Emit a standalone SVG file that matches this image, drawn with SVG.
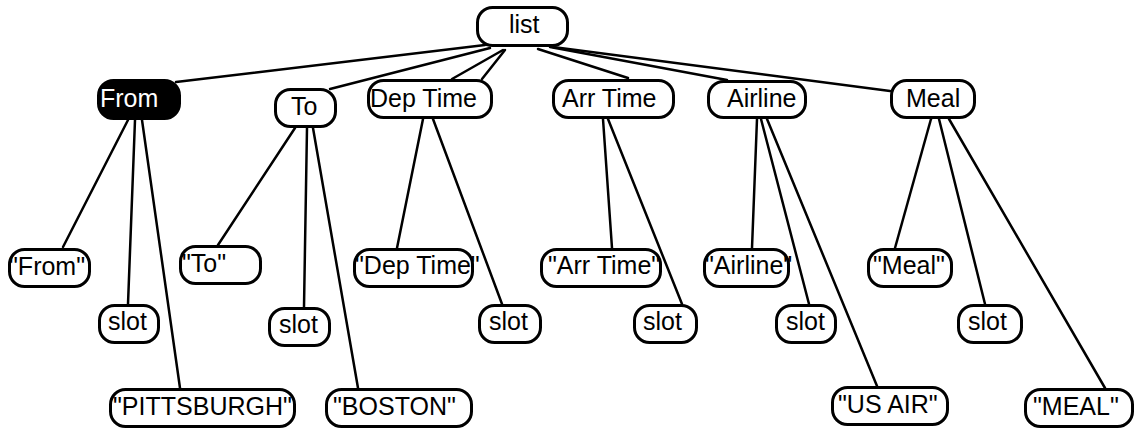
<svg xmlns="http://www.w3.org/2000/svg" width="1135" height="432" viewBox="0 0 1135 432">
<style>
.n rect{fill:#fff;stroke:#000;stroke-width:3}
.n text{font-family:"Liberation Sans",Arial,sans-serif;font-size:25px;fill:#000}
#n-from rect{fill:#000}
#n-from text{fill:#fff}
.c line{stroke:#000;stroke-width:2.5;stroke-linecap:round}
</style>
<rect width="1135" height="432" fill="#fff"/>
<g class="c" id="connectors">
<line x1="485" y1="45" x2="176" y2="82"/>
<line x1="490" y1="48" x2="330" y2="89"/>
<line x1="503" y1="50" x2="452" y2="79"/>
<line x1="505" y1="50" x2="482" y2="79"/>
<line x1="538" y1="49" x2="628" y2="78"/>
<line x1="550" y1="47" x2="727" y2="80"/>
<line x1="553" y1="47" x2="890" y2="91"/>
<line x1="128" y1="120" x2="63" y2="247"/>
<line x1="135" y1="120" x2="128" y2="304"/>
<line x1="142" y1="120" x2="180" y2="388"/>
<line x1="295" y1="128" x2="218" y2="245"/>
<line x1="307" y1="128" x2="304" y2="307"/>
<line x1="313" y1="128" x2="358" y2="388"/>
<line x1="423" y1="119" x2="397" y2="248"/>
<line x1="433" y1="119" x2="502" y2="304"/>
<line x1="603" y1="119" x2="612" y2="248"/>
<line x1="608" y1="119" x2="682" y2="304"/>
<line x1="757" y1="119" x2="752" y2="248"/>
<line x1="761" y1="119" x2="809" y2="304"/>
<line x1="767" y1="119" x2="877" y2="386"/>
<line x1="931" y1="119" x2="895" y2="248"/>
<line x1="939" y1="119" x2="985" y2="304"/>
<line x1="949" y1="119" x2="1105" y2="388"/>
</g>
<g class="n" id="n-list"><rect x="477.5" y="7.5" width="90" height="38" rx="15"/><text x="509" y="33">list</text></g>
<g class="n" id="n-from"><rect x="98.5" y="80.5" width="81" height="38" rx="15"/><text x="100" y="107">From</text></g>
<g class="n" id="n-to"><rect x="275.5" y="89.5" width="60" height="37" rx="15"/><text x="291" y="115">To</text></g>
<g class="n" id="n-deptime"><rect x="368.5" y="80.5" width="123" height="37" rx="15"/><text x="370" y="107">Dep Time</text></g>
<g class="n" id="n-arrtime"><rect x="553.5" y="80.5" width="120" height="37" rx="15"/><text x="562" y="107">Arr Time</text></g>
<g class="n" id="n-airline"><rect x="708.5" y="81.5" width="97" height="36" rx="15"/><text x="727" y="107">Airline</text></g>
<g class="n" id="n-meal"><rect x="891.5" y="80.5" width="83" height="37" rx="15"/><text x="906" y="107">Meal</text></g>
<g class="n" id="n-from-str"><rect x="9.5" y="249.5" width="80" height="37" rx="15"/><text x="9" y="275">"From"</text></g>
<g class="n" id="n-from-slot"><rect x="99.5" y="305.5" width="59" height="37" rx="15"/><text x="108" y="330">slot</text></g>
<g class="n" id="n-pittsburgh"><rect x="110.5" y="389.5" width="184" height="37" rx="15"/><text x="113" y="415">"PITTSBURGH"</text></g>
<g class="n" id="n-to-str"><rect x="180.5" y="246.5" width="80" height="37" rx="15"/><text x="182" y="272">"To"</text></g>
<g class="n" id="n-to-slot"><rect x="269.5" y="308.5" width="60" height="37" rx="15"/><text x="279" y="333">slot</text></g>
<g class="n" id="n-boston"><rect x="326.5" y="389.5" width="145" height="37" rx="15"/><text x="333" y="415">"BOSTON"</text></g>
<g class="n" id="n-dep-str"><rect x="354.5" y="249.5" width="118" height="37" rx="15"/><text x="355" y="274">"Dep Time"</text></g>
<g class="n" id="n-dep-slot"><rect x="479.5" y="305.5" width="61" height="37" rx="15"/><text x="489" y="330">slot</text></g>
<g class="n" id="n-arr-str"><rect x="541.5" y="249.5" width="119" height="37" rx="15"/><text x="548" y="274">"Arr Time"</text></g>
<g class="n" id="n-arr-slot"><rect x="634.5" y="305.5" width="62" height="37" rx="15"/><text x="643" y="330">slot</text></g>
<g class="n" id="n-airline-str"><rect x="704.5" y="249.5" width="84" height="37" rx="15"/><text x="705" y="274">"Airline"</text></g>
<g class="n" id="n-airline-slot"><rect x="776.5" y="305.5" width="59" height="37" rx="15"/><text x="786" y="330">slot</text></g>
<g class="n" id="n-usair"><rect x="832.5" y="387.5" width="115" height="37" rx="15"/><text x="838" y="413">"US AIR"</text></g>
<g class="n" id="n-meal-str"><rect x="868.5" y="249.5" width="83" height="37" rx="15"/><text x="873" y="274">"Meal"</text></g>
<g class="n" id="n-meal-slot"><rect x="958.5" y="305.5" width="63" height="37" rx="15"/><text x="968" y="330">slot</text></g>
<g class="n" id="n-meal-val"><rect x="1025.5" y="389.5" width="107" height="37" rx="15"/><text x="1033" y="415">"MEAL"</text></g>
</svg>
